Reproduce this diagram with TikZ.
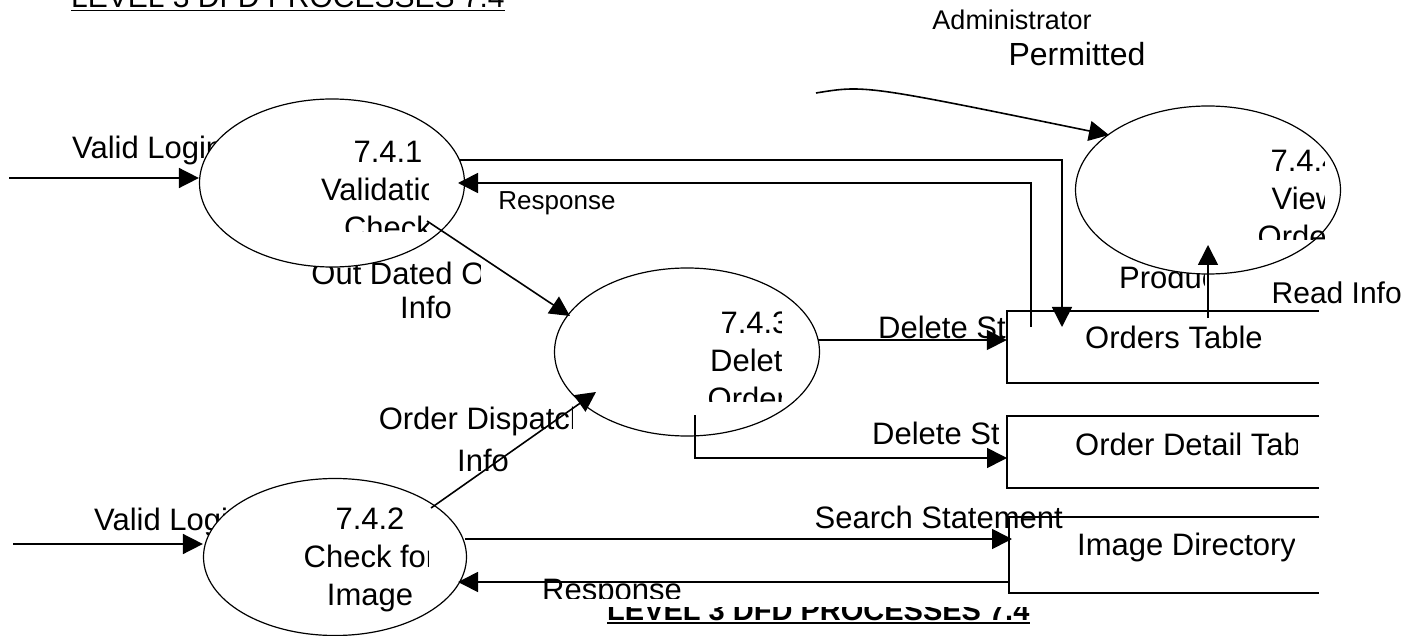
\documentclass[tikz,border=0pt]{standalone}
\usepackage{fontspec}
\setmainfont{Liberation Sans}
\usetikzlibrary{shapes.geometric,arrows.meta}

\tikzset{
  proc/.style={ellipse, draw, fill=white, line width=1.2pt, minimum width=265pt, minimum height=168pt, inner sep=0pt},
  pline/.style={line width=1.6pt},
  flow/.style={line width=1.6pt, -{Triangle[length=20pt,width=20pt]}},
  lbl/.style={inner sep=0pt, align=center, font=\fontsize{31}{38}\selectfont},
  store/.style={minimum width=312pt, minimum height=72pt, inner sep=0pt},
}

\begin{document}
\begin{tikzpicture}[x=1pt,y=-1pt]
\useasboundingbox (0,0) rectangle (1409,636);

% labels that the processes cover
\node[lbl, anchor=west] (vlog1) at (72,150) {Valid Login};
\node[lbl, anchor=west] (vlog2) at (94,522) {Valid Login};
\begin{scope}
\clip (300,250) rectangle (480,330);
\node[lbl, font=\fontsize{31}{34}\selectfont] (outdated) at (426,290) {Out Dated Order\\Info};
\end{scope}
\begin{scope}
\clip (1100,255) rectangle (1204,300);
\node[lbl, anchor=west] (produ) at (1119,277) {Product Info};
\end{scope}

% processes
\node[proc] (p741) at (332,183) {};
\node[proc] (p743) at (687,352) {};
\node[proc] (p744) at (1208,190) {};
\node[proc, minimum width=263pt, minimum height=157pt] (p742) at (335,557) {};

% process texts, cut by their boxes
\begin{scope}
\clip (300,120) rectangle (428,232);
\node[lbl] (t741) at (388,190) {7.4.1\\Validation\\Check};
\end{scope}
\begin{scope}
\clip (280,490) rectangle (428,630);
\node[lbl] (t742) at (370,560) {7.4.2\\Check for\\Image};
\end{scope}
\begin{scope}
\clip (700,290) rectangle (781,401);
\node[lbl] (t743) at (755,361) {7.4.3\\Delete\\Orders};
\end{scope}
\begin{scope}
\clip (1250,130) rectangle (1324,240);
\node[lbl] (t744) at (1305,199) {7.4.4\\View\\Orders};
\end{scope}

% data stores
\node[store] (ordtab) at (1163,347) {};
\node[store] (odtab) at (1163,452) {};
\node[store, minimum width=310pt, minimum height=76pt] (imgdir) at (1164,555) {};
\foreach \s in {ordtab,odtab,imgdir}
  \draw[pline] (\s.north east) -- (\s.north west) -- (\s.south west) -- (\s.south east);
\node[lbl, anchor=west] (ordtabtxt) at (1085,337) {Orders Table};
\begin{scope}
\clip (1060,420) rectangle (1297,470);
\node[lbl, anchor=west] (odtabtxt) at (1075,444) {Order Detail Table};
\end{scope}
\begin{scope}
\clip (1060,525) rectangle (1294,575);
\node[lbl, anchor=west] (imgdirtxt) at (1077,547) {Image Directory};
\end{scope}

% flows
\coordinate (in741) at (9,178);
\draw[flow] (in741) -- (in741 -| p741.west);
\coordinate (in742) at (13,544);
\draw[flow] (in742) -- (in742 -| p742.west);

\coordinate (o741) at (460,160);
\coordinate (o741end) at (1062,327);
\draw[flow] (o741) -| (o741end);
\coordinate (r741) at (1031,327);
\coordinate (r741end) at (458,183);
\draw[flow] (r741) |- (r741end);

\coordinate (od741) at (427,221);
\coordinate (od743) at (570,316);
\draw[flow] (od741) -- (od743);
\coordinate (dp742) at (431,508);
\coordinate (dp743) at (596,392);
\draw[flow] (dp742) -- (dp743);

\coordinate (del1) at (818,340);
\draw[flow] (del1) -- (del1 -| ordtab.west);
\coordinate (del2) at (695,415);
\coordinate (del2end) at (1007,458);
\draw[flow] (del2) |- (del2end);

\coordinate (srch) at (465,539);
\coordinate (srchend) at (1012,539);
\draw[flow] (srch) -- (srchend);
\coordinate (resp) at (1008,582);
\coordinate (respend) at (458,582);
\draw[flow] (resp) -- (respend);

\coordinate (rd) at (1208,318);
\coordinate (rdend) at (1208,245);
\draw[flow] (rd) -- (rdend);
\coordinate (adm) at (816,93);
\coordinate (admend) at (1109,135);
\draw[flow] (adm) .. controls (865,85) .. (admend);

% flow labels
\node[lbl, font=\fontsize{26}{30}\selectfont] (resp1) at (557,203) {Response};
\begin{scope}
\clip (860,300) rectangle (1005,355);
\node[lbl, anchor=west] (dels1) at (878,327) {Delete Statement};
\end{scope}
\begin{scope}
\clip (860,410) rectangle (998,455);
\node[lbl, anchor=west] (dels2) at (872,433) {Delete Statement};
\end{scope}
\node[lbl, anchor=east] (srchtxt) at (1063,517) {Search Statement};
\node[lbl, font=\fontsize{30}{36}\selectfont, anchor=east] (readinfo) at (1402,293) {Read Info};
\node[lbl, font=\fontsize{27}{32}\selectfont] (admin) at (1012,20) {Administrator};
\node[lbl, font=\fontsize{32}{38}\selectfont] (permit) at (1077,54) {Permitted};
\begin{scope}
\clip (350,395) rectangle (572,480);
\node[lbl, font=\fontsize{31}{42}\selectfont] (dispatch) at (483,439) {Order Dispatch\\Info};
\end{scope}
\begin{scope}
\clip (530,560) rectangle (700,598);
\node[lbl, anchor=base] (resp2) at (612,600) {Response};
\end{scope}

% titles
\node[inner sep=0pt, anchor=base west, font=\fontsize{30}{36}\selectfont] (toptitle) at (71,8) {LEVEL 3 DFD PROCESSES 7.4};
\draw[pline] ([yshift=-2.5pt]toptitle.base west) -- ([yshift=-2.5pt]toptitle.base east);
\begin{scope}
\clip (590,607) rectangle (1100,636);
\node[inner sep=0pt, anchor=base west, font=\bfseries\fontsize{29}{34}\selectfont] (bottitle) at (607,620) {LEVEL 3 DFD PROCESSES 7.4};
\draw[pline] ([yshift=-3pt]bottitle.base west) -- ([yshift=-3pt]bottitle.base east);
\end{scope}
\end{tikzpicture}
\end{document}
